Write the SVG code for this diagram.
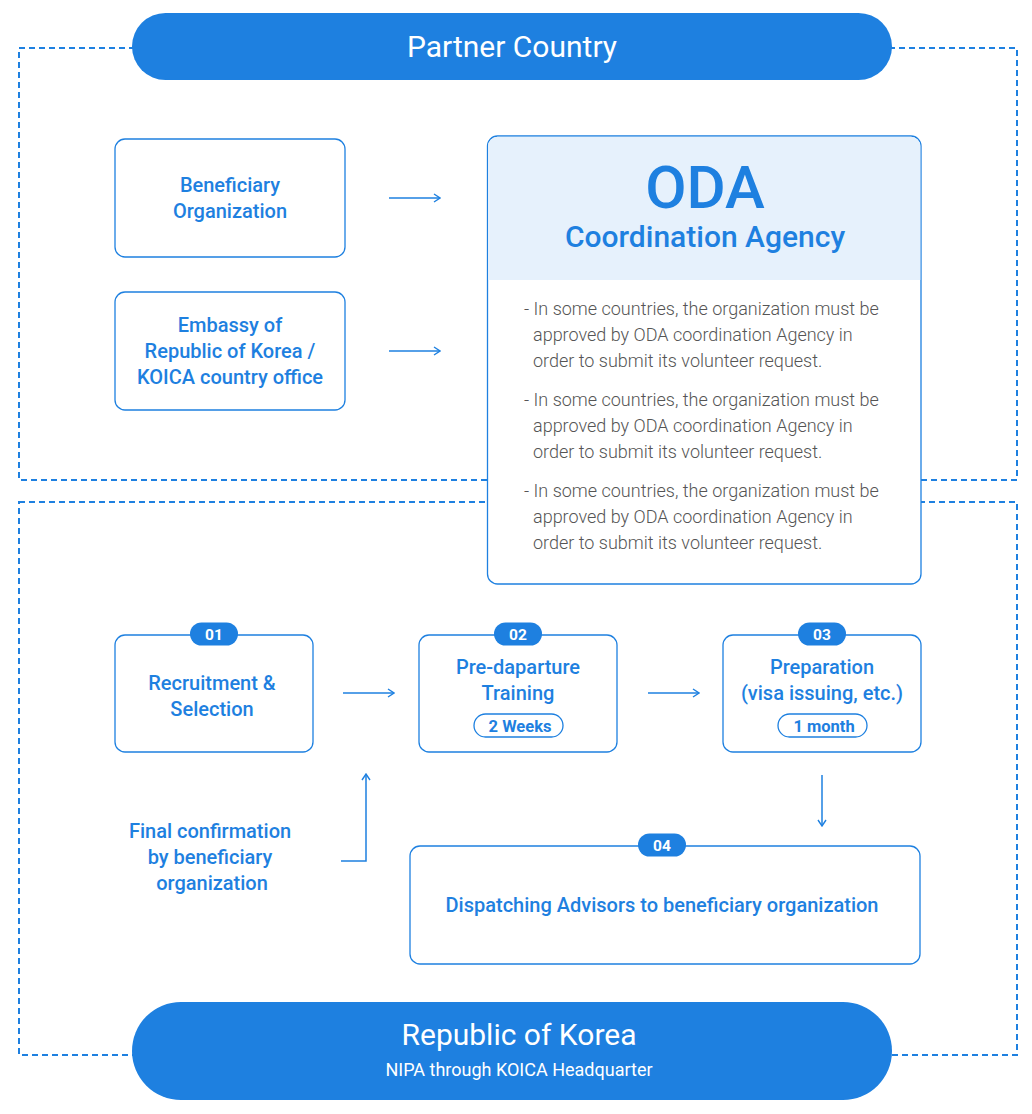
<svg xmlns="http://www.w3.org/2000/svg" width="1032" height="1114" viewBox="0 0 1032 1114">
<style>
.dash{fill:none;stroke:#1e80e0;stroke-width:2;stroke-dasharray:6 4}
.box{fill:#fff;stroke:#1e80e0;stroke-width:1.3}
.lbl{font-family:Roboto,"Liberation Sans",sans-serif;font-weight:500;font-size:20px;fill:#1e80e0;text-anchor:middle}
.body{font-family:Roboto,"Liberation Sans",sans-serif;font-weight:300;font-size:18px;fill:#555}
.badge{fill:#1e80e0}
.badgeT{font-family:Roboto,"Liberation Sans",sans-serif;font-weight:700;font-size:15.5px;fill:#fff;text-anchor:middle}
.pill{fill:#fff;stroke:#1e80e0;stroke-width:1.3}
.pillT{font-family:Roboto,"Liberation Sans",sans-serif;font-weight:700;font-size:16.5px;fill:#1e80e0;text-anchor:middle}
.conn{fill:none;stroke:#1e80e0;stroke-width:1.5}
.white{font-family:Roboto,"Liberation Sans",sans-serif;font-weight:400;fill:#fff;text-anchor:middle}
</style>
<defs>
<marker id="arr" viewBox="0 0 10 10" refX="9" refY="5" markerWidth="10" markerHeight="10" markerUnits="userSpaceOnUse" orient="auto">
<path d="M3,1 L9,5 L3,9" fill="none" stroke="#1e80e0" stroke-width="1.4"/>
</marker>
</defs>
<rect width="1032" height="1114" fill="#fff"/>
<g id="regions">
<rect class="dash" x="19" y="48" width="998" height="432"/>
<rect class="dash" x="19" y="502" width="998" height="553"/>
</g>
<g id="partner-country">
<rect x="132" y="13" width="760" height="67" rx="33.5" fill="#1e80e0"/>
<text class="white" x="512" y="57" font-size="30">Partner Country</text>
</g>
<g id="republic-of-korea">
<rect x="132" y="1002" width="760" height="98" rx="49" fill="#1e80e0"/>
<text class="white" x="519" y="1045" font-size="30">Republic of Korea</text>
<text class="white" x="519" y="1076" font-size="18">NIPA through KOICA Headquarter</text>
</g>
<g id="connectors">
<line class="conn" x1="389" y1="198" x2="440" y2="198" marker-end="url(#arr)"/>
<line class="conn" x1="389" y1="351" x2="440" y2="351" marker-end="url(#arr)"/>
<line class="conn" x1="343" y1="693" x2="394" y2="693" marker-end="url(#arr)"/>
<line class="conn" x1="648" y1="693" x2="699" y2="693" marker-end="url(#arr)"/>
<line class="conn" x1="822" y1="775" x2="822" y2="826" marker-end="url(#arr)"/>
<polyline class="conn" points="341,861 366,861 366,774" marker-end="url(#arr)"/>
</g>
<g id="beneficiary-organization">
<rect class="box" x="115" y="139" width="230" height="118" rx="10"/>
<text class="lbl" x="230" y="192">Beneficiary</text>
<text class="lbl" x="230" y="218">Organization</text>
</g>
<g id="embassy">
<rect class="box" x="115" y="292" width="230" height="118" rx="10"/>
<text class="lbl" x="230" y="332">Embassy of</text>
<text class="lbl" x="230" y="358">Republic of Korea /</text>
<text class="lbl" x="230" y="384">KOICA country office</text>
</g>
<g id="oda-agency">
<rect class="box" x="487.5" y="136" width="433.5" height="448" rx="10"/>
<path d="M488.2,280 V146 A9.3,9.3 0 0 1 497.5,136.7 H911 A9.3,9.3 0 0 1 920.3,146 V280 Z" fill="#e6f1fc"/>
<text x="705" y="208" font-family="Roboto,'Liberation Sans',sans-serif" font-weight="500" font-size="60" fill="#1e80e0" text-anchor="middle">ODA</text>
<text x="705" y="247" font-family="Roboto,'Liberation Sans',sans-serif" font-weight="500" font-size="30" fill="#1e80e0" text-anchor="middle">Coordination Agency</text>
<text class="body" x="524" y="315">- In some countries, the organization must be</text>
<text class="body" x="533" y="341">approved by ODA coordination Agency in</text>
<text class="body" x="533" y="367">order to submit its volunteer request.</text>
<text class="body" x="524" y="406">- In some countries, the organization must be</text>
<text class="body" x="533" y="432">approved by ODA coordination Agency in</text>
<text class="body" x="533" y="458">order to submit its volunteer request.</text>
<text class="body" x="524" y="497">- In some countries, the organization must be</text>
<text class="body" x="533" y="523">approved by ODA coordination Agency in</text>
<text class="body" x="533" y="549">order to submit its volunteer request.</text>
</g>
<g id="step-01">
<rect class="box" x="115" y="635" width="198" height="117" rx="10"/>
<rect class="badge" x="190" y="622.5" width="48" height="23" rx="11.5"/>
<text class="badgeT" x="214" y="639.5">01</text>
<text class="lbl" x="212" y="690">Recruitment &amp;</text>
<text class="lbl" x="212" y="716">Selection</text>
</g>
<g id="step-02">
<rect class="box" x="419" y="635" width="198" height="117" rx="10"/>
<rect class="badge" x="494" y="622.5" width="48" height="23" rx="11.5"/>
<text class="badgeT" x="518" y="639.5">02</text>
<text class="lbl" x="518" y="674">Pre-daparture</text>
<text class="lbl" x="518" y="700">Training</text>
<rect class="pill" x="474" y="714" width="89" height="23" rx="11.5"/>
<text class="pillT" x="520" y="731.5">2 Weeks</text>
</g>
<g id="step-03">
<rect class="box" x="723" y="635" width="198" height="117" rx="10"/>
<rect class="badge" x="798" y="622.5" width="48" height="23" rx="11.5"/>
<text class="badgeT" x="822" y="639.5">03</text>
<text class="lbl" x="822" y="674">Preparation</text>
<text class="lbl" x="822" y="700">(visa issuing, etc.)</text>
<rect class="pill" x="778" y="714" width="89" height="23" rx="11.5"/>
<text class="pillT" x="824" y="731.5">1 month</text>
</g>
<g id="final-confirmation">
<text class="lbl" x="210" y="838">Final confirmation</text>
<text class="lbl" x="210" y="864">by beneficiary</text>
<text class="lbl" x="212" y="890">organization</text>
</g>
<g id="step-04">
<rect class="box" x="410" y="846" width="510" height="118" rx="10"/>
<rect class="badge" x="638" y="833.5" width="48" height="23" rx="11.5"/>
<text class="badgeT" x="662" y="850.5">04</text>
<text class="lbl" x="662" y="912">Dispatching Advisors to beneficiary organization</text>
</g>
</svg>
